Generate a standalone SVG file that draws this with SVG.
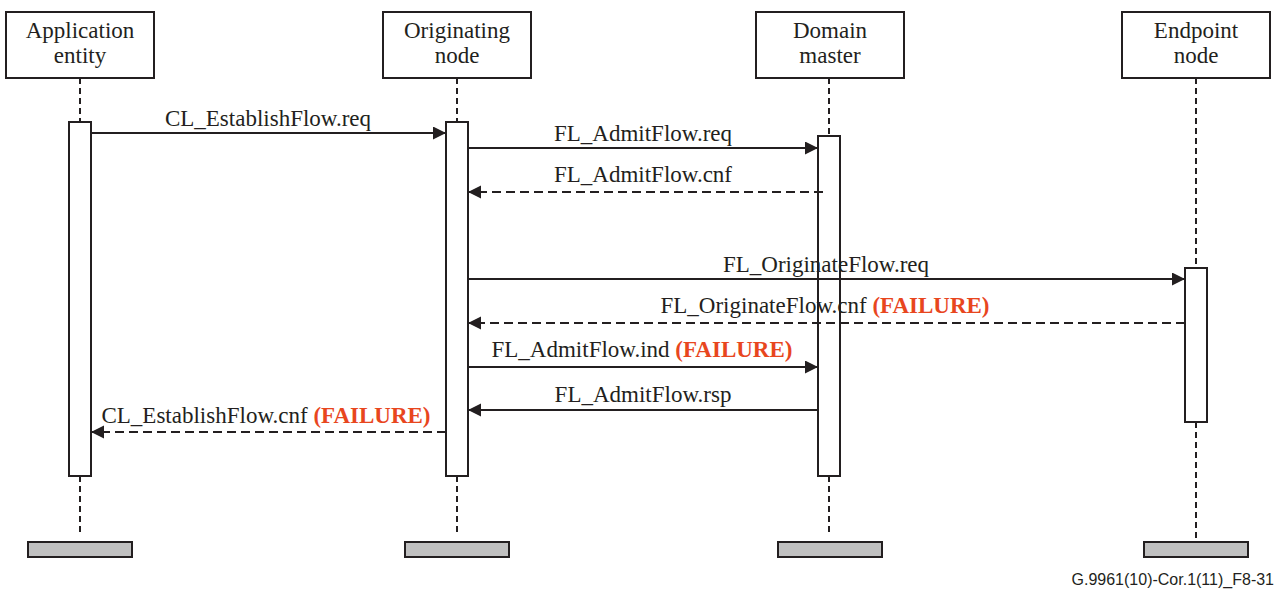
<svg xmlns="http://www.w3.org/2000/svg" width="1285" height="590" viewBox="0 0 1285 590">
<style>
.box{fill:#fff;stroke:#231f20;stroke-width:2}
.act{fill:#fff;stroke:#231f20;stroke-width:2}
.bar{fill:#c0c0c0;stroke:#231f20;stroke-width:2}
.life{stroke:#231f20;stroke-width:2;stroke-dasharray:6,4;fill:none}
.msg{stroke:#231f20;stroke-width:2;fill:none;marker-end:url(#ah)}
.dash{stroke-dasharray:9,5}
.t{font-family:"Liberation Serif","Times New Roman",serif;font-size:23px;fill:#231f20;text-anchor:middle}
.f{font-weight:bold;fill:#e8461e}
.foot{font-family:"Liberation Sans",Arial,sans-serif;font-size:16px;fill:#231f20;text-anchor:end}
</style>
<defs>
<marker id="ah" markerUnits="userSpaceOnUse" markerWidth="14" markerHeight="14" refX="13" refY="6.5" orient="auto">
<path d="M0,0 L13,6.5 L0,13 z" fill="#231f20"/>
</marker>
</defs>
<g id="lifelines">
<line class="life" x1="80" y1="78" x2="80" y2="122"/>
<line class="life" x1="80" y1="476" x2="80" y2="532"/>
<line class="life" x1="457" y1="78" x2="457" y2="122"/>
<line class="life" x1="457" y1="476" x2="457" y2="532"/>
<line class="life" x1="829" y1="78" x2="829" y2="136"/>
<line class="life" x1="829" y1="476" x2="829" y2="532"/>
<line class="life" x1="1196" y1="78" x2="1196" y2="268"/>
<line class="life" x1="1196" y1="422" x2="1196" y2="542"/>
</g>
<g id="node-application">
<rect class="box" x="6" y="12" width="148" height="66"/>
<text class="t" x="80" y="38">Application</text>
<text class="t" x="80" y="63">entity</text>
<rect class="act" x="69" y="122" width="22" height="354"/>
<rect class="bar" x="28" y="542" width="104" height="15"/>
</g>
<g id="node-originating">
<rect class="box" x="383" y="12" width="148" height="66"/>
<text class="t" x="457" y="38">Originating</text>
<text class="t" x="457" y="63">node</text>
<rect class="act" x="446" y="122" width="22" height="354"/>
<rect class="bar" x="405" y="542" width="104" height="15"/>
</g>
<g id="node-domain">
<rect class="box" x="756" y="12" width="148" height="66"/>
<text class="t" x="830" y="38">Domain</text>
<text class="t" x="830" y="63">master</text>
<rect class="act" x="818" y="136" width="22" height="340"/>
<rect class="bar" x="778" y="542" width="104" height="15"/>
</g>
<g id="node-endpoint">
<rect class="box" x="1122" y="12" width="148" height="66"/>
<text class="t" x="1196" y="38">Endpoint</text>
<text class="t" x="1196" y="63">node</text>
<rect class="act" x="1185" y="268" width="22" height="154"/>
<rect class="bar" x="1144" y="542" width="104" height="15"/>
</g>
<g id="connectors">
<line class="msg" x1="91" y1="133" x2="446" y2="133"/>
<text class="t" x="268" y="126">CL_EstablishFlow.req</text>
<line class="msg" x1="468" y1="148" x2="818" y2="148"/>
<text class="t" x="643" y="141">FL_AdmitFlow.req</text>
<line class="msg dash" x1="823" y1="192" x2="468" y2="192"/>
<text class="t" x="643" y="182">FL_AdmitFlow.cnf</text>
<line class="msg" x1="468" y1="279" x2="1185" y2="279"/>
<text class="t" x="826" y="272">FL_OriginateFlow.req</text>
<line class="msg dash" x1="1185" y1="323" x2="468" y2="323"/>
<text class="t" x="825" y="313">FL_OriginateFlow.cnf <tspan class="f">(FAILURE)</tspan></text>
<line class="msg" x1="468" y1="367" x2="818" y2="367"/>
<text class="t" x="642" y="357">FL_AdmitFlow.ind <tspan class="f">(FAILURE)</tspan></text>
<line class="msg" x1="818" y1="410" x2="468" y2="410"/>
<text class="t" x="643" y="402">FL_AdmitFlow.rsp</text>
<line class="msg dash" x1="446" y1="432" x2="91" y2="432"/>
<text class="t" x="266" y="423">CL_EstablishFlow.cnf <tspan class="f">(FAILURE)</tspan></text>
</g>
<text class="foot" x="1274" y="585">G.9961(10)-Cor.1(11)_F8-31</text>
</svg>
